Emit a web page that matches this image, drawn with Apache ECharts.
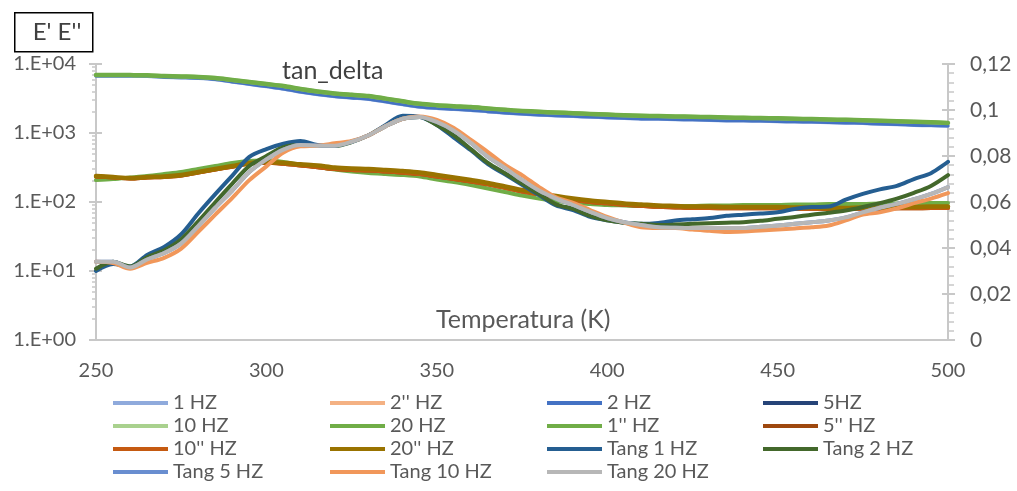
<!DOCTYPE html>
<html><head><meta charset="utf-8">
<script src="https://cdn.jsdelivr.net/npm/echarts@6/dist/echarts.min.js"></script>
<style>html,body{margin:0;padding:0;background:#fff}#c{width:1017px;height:491px}</style>
</head><body><div id="c"></div>
<script>
// Temperature (K)
const temperatures = [250,255,260,265,270,275,280,285,290,295,300,305,310,315,320,325,330,335,340,345,350,355,360,365,370,375,380,385,390,395,400,405,410,415,420,425,430,435,440,445,450,455,460,465,470,475,480,485,490,495,500];

// E' (storage modulus), left log axis
const e2Hz  = [6700,6700,6680,6620,6450,6330,6200,5950,5500,5100,4700,4350,3920,3600,3370,3220,3080,2830,2590,2390,2280,2210,2140,2040,1950,1880,1830,1780,1750,1700,1670,1630,1600,1590,1570,1550,1530,1510,1500,1490,1470,1450,1440,1420,1400,1380,1350,1330,1300,1280,1260];
const e20Hz = [6930,6930,6900,6850,6700,6600,6500,6270,5860,5490,5130,4800,4340,3990,3740,3580,3440,3150,2880,2650,2530,2450,2380,2270,2170,2090,2030,1980,1940,1890,1850,1810,1780,1760,1740,1720,1700,1680,1660,1650,1630,1610,1590,1570,1550,1530,1500,1480,1450,1430,1400];
// hidden curves coincide with the visible ones
const e1Hz  = e2Hz;
const e5Hz  = e20Hz;
const e10Hz = e20Hz;

// E'' (loss modulus), left log axis
const ee1Hz  = [208,215,226,238,254,272,301,332,368,393,399,380,344,322,296,277,263,254,246,234,212,195,176,157,140,124,112,103,97,93.5,90.5,89,87.5,87.5,87.5,87.5,89,89,90.5,90.5,90.5,92,92,93.5,93.5,93.5,95,95,97,97,97];
const ee10Hz = [235,226,219,226,230,241,267,295,325,360,370,358,338,320,300,290,285,276,266,254,234,216,198,180,160,142,129,117,107,100,95.5,91,88,85,83.5,82,82,81,81,81,81,80,80,79,79,80,80,81,81,82,82];
const ee20Hz = [238,230,223,230,234,246,272,301,332,368,380,370,352,338,316,306,301,291,281,268,246,227,208,189,168,149,135,122,112,105,100,95,92,89,87.5,86,86,84.6,84.6,84.6,84.6,83.2,83.2,81.8,81.8,83.2,83.2,84.6,84.6,86,86];
const ee2Hz = ee10Hz;
const ee5Hz = ee10Hz;

// tan delta, right axis
const tan1Hz  = [0.030,0.033,0.032,0.037,0.0405,0.046,0.055,0.0634,0.0715,0.0796,0.083,0.0853,0.0865,0.0848,0.0845,0.0862,0.089,0.0935,0.0975,0.097,0.0935,0.088,0.0825,0.0765,0.072,0.0675,0.063,0.0585,0.0565,0.0535,0.052,0.051,0.0505,0.0509,0.052,0.0525,0.053,0.054,0.0545,0.055,0.0555,0.057,0.0578,0.058,0.061,0.0635,0.0655,0.067,0.070,0.0725,0.0775];
const tan2Hz  = [0.031,0.034,0.032,0.036,0.039,0.0438,0.0516,0.0599,0.068,0.0757,0.080,0.0838,0.0848,0.0843,0.0843,0.086,0.089,0.093,0.0962,0.097,0.0935,0.089,0.083,0.077,0.0725,0.068,0.0635,0.059,0.057,0.054,0.052,0.051,0.0505,0.050,0.0502,0.0505,0.0508,0.051,0.0512,0.0518,0.0527,0.0535,0.0545,0.0553,0.0563,0.0578,0.0595,0.0615,0.064,0.067,0.0717];
const tan10Hz = [0.034,0.0335,0.031,0.0335,0.0357,0.0397,0.047,0.0545,0.0618,0.0695,0.0755,0.0815,0.0842,0.0845,0.0855,0.0865,0.089,0.093,0.0962,0.0972,0.0957,0.0922,0.087,0.0817,0.0761,0.0717,0.0665,0.062,0.0596,0.0565,0.0535,0.051,0.049,0.0487,0.0487,0.048,0.0475,0.047,0.0472,0.0476,0.048,0.0485,0.049,0.0498,0.052,0.0545,0.0555,0.0572,0.0595,0.0615,0.0639];
const tan20Hz = [0.034,0.034,0.0315,0.035,0.0378,0.042,0.0495,0.0575,0.065,0.073,0.0785,0.0828,0.0848,0.0845,0.0845,0.0862,0.089,0.093,0.0962,0.097,0.0948,0.091,0.0857,0.0796,0.0748,0.0696,0.065,0.0615,0.0587,0.0557,0.053,0.0512,0.050,0.049,0.0488,0.0487,0.0487,0.0487,0.0487,0.0492,0.0498,0.0505,0.0512,0.052,0.0533,0.0555,0.0575,0.0592,0.0612,0.0635,0.0665];
const tan5Hz = tan20Hz; // hidden beneath Tang 20 HZ

const logMinorTicks = [];
[1,10,100,1000].forEach(d => { for (let k = 2; k <= 9; k++) logMinorTicks.push(d * k); });

const FONT = 'Lato, "Open Sans", sans-serif';
const AX = '#C8C8C8';
const seriesDefs = [
  {name:'1 HZ',       data:e1Hz,   color:'#8FAADC', ax:0, w:3.5},
  {name:"2'' HZ",     data:ee2Hz,  color:'#F4B183', ax:0, w:3.5},
  {name:'2 HZ',       data:e2Hz,   color:'#4472C4', ax:0, w:3},
  {name:'5HZ',        data:e5Hz,   color:'#264478', ax:0, w:3},
  {name:'10 HZ',      data:e10Hz,  color:'#A9D18E', ax:0, w:4},
  {name:'20 HZ',      data:e20Hz,  color:'#70AD47', ax:0, w:4.5},
  {name:"1'' HZ",     data:ee1Hz,  color:'#70AD47', ax:0, w:4},
  {name:"5'' HZ",     data:ee5Hz,  color:'#9E480E', ax:0, w:4},
  {name:"10'' HZ",    data:ee10Hz, color:'#C55A11', ax:0, w:4},
  {name:"20'' HZ",    data:ee20Hz, color:'#997300', ax:0, w:4.5},
  {name:'Tang 1 HZ',  data:tan1Hz, color:'#255E91', ax:1, w:4},
  {name:'Tang 2 HZ',  data:tan2Hz, color:'#43682B', ax:1, w:4},
  {name:'Tang 5 HZ',  data:tan5Hz, color:'#698ED0', ax:1, w:4},
  {name:'Tang 10 HZ', data:tan10Hz,color:'#F1975A', ax:1, w:4},
  {name:'Tang 20 HZ', data:tan20Hz,color:'#B7B7B7', ax:1, w:4}
];
const legendCols = [
  ['1 HZ','10 HZ',"10'' HZ",'Tang 5 HZ'],
  ["2'' HZ",'20 HZ',"20'' HZ",'Tang 10 HZ'],
  ['2 HZ',"1'' HZ",'Tang 1 HZ','Tang 20 HZ'],
  ['5HZ',"5'' HZ",'Tang 2 HZ']
];
const legendX = [113, 330, 547, 763];

const chart = echarts.init(document.getElementById('c'), null, {renderer:'canvas'});
chart.setOption({
  animation:false,
  backgroundColor:'#fff',
  textStyle:{fontFamily:FONT},
  grid:{left:96, right:69, top:64, bottom:151, containLabel:false},
  title:[
    {text:'tan_delta', left:282, top:58, padding:0, textStyle:{fontSize:25, fontWeight:'normal', color:'#404040', fontFamily:FONT}},
    {text:'Temperatura (K)', left:436, top:307, padding:0, textStyle:{fontSize:25, fontWeight:'normal', color:'#595959', fontFamily:FONT}}
  ],
  graphic:[
    {type:'rect', left:14, top:12, shape:{width:78, height:39}, style:{fill:'#fff', stroke:'#000', lineWidth:1.5}},
    {type:'text', x:57, y:32, style:{text:"E' E''", font:'24px ' + FONT, fill:'#404040', align:'center', verticalAlign:'middle'}}
  ],
  legend: legendCols.map((col, i) => ({
    data: col, orient:'vertical', left: legendX[i], top: 393, height: 98, padding:0,
    itemWidth:55, itemHeight:20, itemGap:3, selectedMode:false,
    icon:'path://M0,0 L55,0 L55,4 L0,4 Z', symbolKeepAspect:true,
    textStyle:{fontSize:20, color:'#595959', lineHeight:20, fontFamily:FONT}
  })),
  xAxis:{
    type:'value', min:250, max:500, interval:50,
    axisLine:{show:true, onZero:false, lineStyle:{color:AX, width:2}},
    axisTick:{show:false},
    splitLine:{show:false},
    axisLabel:{fontSize:20, color:'#595959', margin:21, fontFamily:FONT}
  },
  yAxis:[
    {
      type:'log', logBase:10, min:1, max:10000, interval:1, position:'left',
      axisLine:{show:true, lineStyle:{color:AX, width:2}},
      axisTick:{show:true, length:7, lineStyle:{color:AX, width:2}},
      splitLine:{show:false},
      axisLabel:{fontSize:20, color:'#595959', margin:20, fontFamily:FONT,
        formatter: v => { const p = Math.round(Math.log10(v)); return '1.E+' + (p < 10 ? '0' : '') + p; }}
    },
    {
      type:'value', min:0, max:0.12, interval:0.02, position:'right',
      axisLine:{show:true, lineStyle:{color:AX, width:2}},
      axisTick:{show:true, length:7, lineStyle:{color:AX, width:2}},
      minorTick:{show:true, splitNumber:5, length:6, lineStyle:{color:AX, width:1.5}},
      splitLine:{show:false}, minorSplitLine:{show:false},
      axisLabel:{fontSize:21, color:'#595959', margin:22, fontFamily:FONT,
        formatter: v => String(+v.toFixed(2)).replace('.', ',')}
    },
    {
      type:'log', logBase:10, min:1, max:10000, position:'left', offset:0,
      axisLine:{show:false},
      axisTick:{show:true, length:4, customValues: logMinorTicks, lineStyle:{color:AX, width:1.5}},
      axisLabel:{show:false},
      splitLine:{show:false}
    },
    {
      type:'log', logBase:10, min:1, max:10000, interval:1, position:'left', offset:0,
      axisLine:{show:false},
      axisTick:{show:true, inside:true, length:6, lineStyle:{color:AX, width:2}},
      axisLabel:{show:false},
      splitLine:{show:false}
    },
    {
      type:'value', min:0, max:0.12, interval:0.02, position:'right', offset:0,
      axisLine:{show:false},
      axisTick:{show:true, inside:true, length:6, lineStyle:{color:AX, width:2}},
      axisLabel:{show:false},
      splitLine:{show:false}
    }
  ],
  series: seriesDefs.map(s => ({
    name:s.name, type:'line', yAxisIndex:s.ax, symbol:'none', smooth:0.3,
    data: temperatures.map((t, i) => [t, s.data[i]]),
    itemStyle:{color:s.color},
    lineStyle:{color:s.color, width:s.w, cap:'round', join:'round'}
  }))
});
</script>
</body></html>
